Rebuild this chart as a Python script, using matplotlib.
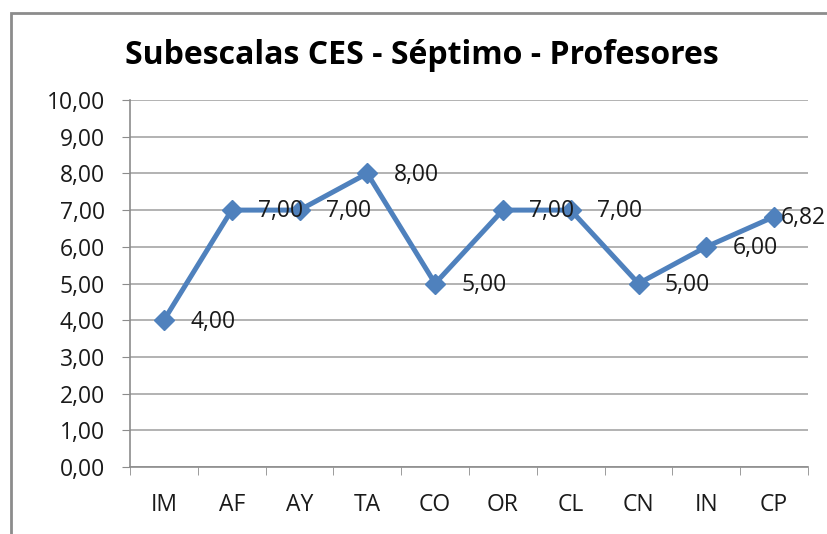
import matplotlib.pyplot as plt
from matplotlib.patches import Rectangle
import numpy as np

categories = ["IM", "AF", "AY", "TA", "CO", "OR", "CL", "CN", "IN", "CP"]
values = [4.00, 7.00, 7.00, 8.00, 5.00, 7.00, 7.00, 5.00, 6.00, 6.82]
title = "Subescalas CES - Séptimo - Profesores"

plt.rcParams["font.family"] = ["Open Sans", "DejaVu Sans"]

fig = plt.figure(figsize=(8.28, 5.34), dpi=100)
W, H = 828, 534

# chart border (cut off on the right and bottom)
fig.patches.append(Rectangle((11 / W, -0.1), 1.0, 1 - 13 / H + 0.1,
                             transform=fig.transFigure, fill=False,
                             edgecolor="#8c8c8c", linewidth=2))

ax = fig.add_axes([130 / W, 1 - 467 / H, (808 - 130) / W, (467 - 100) / H])

x = np.arange(len(categories))
ax.plot(x, values, color="#4F81BD", linewidth=3.6, marker="D",
        markersize=10, zorder=3, clip_on=False)

for xi, v in zip(x, values):
    label = f"{v:.2f}".replace(".", ",")
    # last label squeezed left so it fits inside the chart
    dx = 5 if xi == len(categories) - 1 else 19
    ax.annotate(label, (xi, v), xytext=(dx, -1), textcoords="offset points",
                ha="left", va="center", fontsize=16.5, color="#1a1a1a",
                annotation_clip=False, zorder=4)

ax.set_xlim(-0.5, len(categories) - 0.5)
ax.set_ylim(0, 10)
ax.set_yticks(np.arange(0, 11, 1))
ax.set_yticklabels([f"{t:.2f}".replace(".", ",") for t in range(11)],
                   fontsize=16.5, color="#1a1a1a")
ax.set_xticks(x)
ax.set_xticklabels(categories, fontsize=16.5, color="#1a1a1a")
ax.tick_params(axis="x", length=0, pad=19)
ax.set_xticks(np.arange(-0.5, len(categories), 1), minor=True)
ax.tick_params(axis="x", which="minor", length=6, color="#8c8c8c")
ax.tick_params(axis="y", length=6, color="#8c8c8c", pad=12)

ax.grid(axis="y", color="#a6a6a6", linewidth=1.2)
ax.set_axisbelow(True)
for s in ["top", "right"]:
    ax.spines[s].set_visible(False)
for s in ["left", "bottom"]:
    ax.spines[s].set_color("#8c8c8c")
    ax.spines[s].set_linewidth(1.2)

fig.text(422 / W, 1 - 55 / H, title, ha="center", va="center",
         fontsize=23, fontweight="bold", color="#000000")

fig.savefig("out.png", dpi=100)
